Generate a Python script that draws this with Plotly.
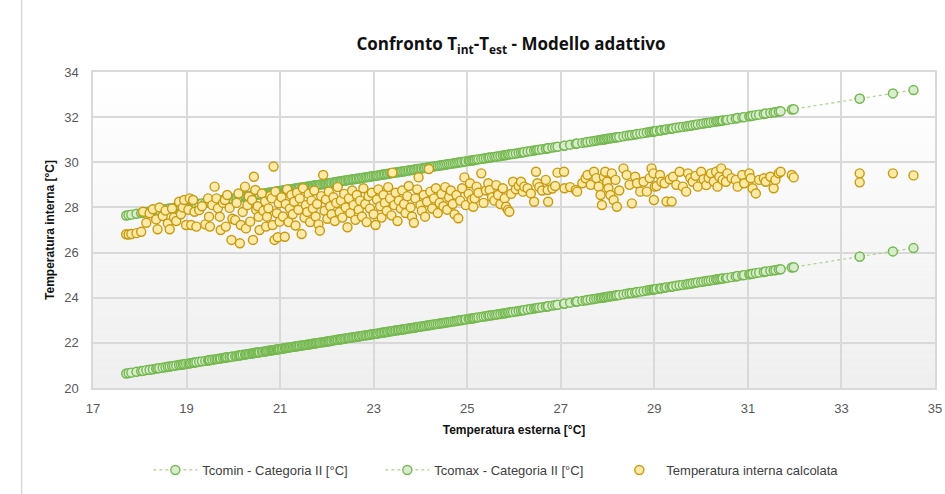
import plotly.graph_objects as go

# Outdoor running-mean temperature (x), shared by all series
t_est = [17.71, 17.76, 17.82, 17.93, 18.03, 18.07, 18.14, 18.21, 18.28, 18.35, 18.38, 18.42, 18.49, 18.55, 18.60, 18.64, 18.69, 18.73, 18.78, 18.84, 18.88, 18.92, 18.95, 18.99,
         19.04, 19.07, 19.10, 19.14, 19.17, 19.21, 19.27, 19.33, 19.40, 19.46, 19.48, 19.50, 19.55, 19.60, 19.64, 19.67, 19.71, 19.73, 19.78, 19.82, 19.84, 19.87, 19.92, 19.96, 19.98,
         20.04, 20.07, 20.11, 20.14, 20.16, 20.20, 20.25, 20.27, 20.30, 20.33, 20.36, 20.40, 20.42, 20.44, 20.47, 20.49, 20.52, 20.54, 20.56, 20.61, 20.64, 20.68, 20.70, 20.72, 20.75, 20.79, 20.82, 20.84, 20.86, 20.88, 20.90, 20.93, 20.95, 20.97, 20.99,
         21.03, 21.06, 21.10, 21.12, 21.15, 21.18, 21.21, 21.24, 21.27, 21.30, 21.33, 21.36, 21.39, 21.42, 21.46, 21.49, 21.52, 21.55, 21.58, 21.61, 21.64, 21.67, 21.70, 21.73, 21.76, 21.79, 21.82, 21.85, 21.88, 21.92, 21.95, 21.98,
         22.01, 22.04, 22.07, 22.10, 22.14, 22.17, 22.20, 22.23, 22.27, 22.30, 22.33, 22.37, 22.40, 22.44, 22.47, 22.50, 22.54, 22.57, 22.61, 22.64, 22.68, 22.71, 22.75, 22.78, 22.82, 22.85, 22.89, 22.92, 22.96,
         23.00, 23.04, 23.07, 23.10, 23.14, 23.17, 23.21, 23.24, 23.28, 23.31, 23.35, 23.38, 23.40, 23.44, 23.47, 23.51, 23.54, 23.58, 23.61, 23.65, 23.68, 23.72, 23.75, 23.79, 23.82, 23.86, 23.89, 23.93, 23.96,
         24.00, 24.03, 24.07, 24.10, 24.14, 24.18, 24.21, 24.25, 24.29, 24.33, 24.37, 24.41, 24.45, 24.49, 24.53, 24.57, 24.61, 24.65, 24.69, 24.73, 24.77, 24.81, 24.85, 24.89, 24.94, 24.97,
         25.03, 25.06, 25.10, 25.13, 25.16, 25.20, 25.24, 25.30, 25.35, 25.40, 25.45, 25.48, 25.53, 25.58, 25.62, 25.66, 25.71, 25.76, 25.80, 25.83, 25.87, 25.90, 25.94, 25.98,
         26.04, 26.10, 26.15, 26.19, 26.22, 26.29, 26.36, 26.43, 26.47, 26.50, 26.54, 26.60, 26.68, 26.72, 26.73, 26.82, 26.88, 26.93,
         27.07, 27.08, 27.20, 27.32, 27.35, 27.46, 27.53, 27.57, 27.64, 27.71, 27.76, 27.81, 27.85, 27.88, 27.92, 27.95, 27.99,
         28.02, 28.06, 28.09, 28.13, 28.17, 28.20, 28.25, 28.34, 28.41, 28.47, 28.52, 28.59, 28.63, 28.70, 28.77, 28.84, 28.90, 28.94, 28.98, 28.99,
         29.01, 29.05, 29.12, 29.15, 29.22, 29.26, 29.33, 29.37, 29.40, 29.47, 29.54, 29.61, 29.68, 29.72, 29.77, 29.82, 29.88, 29.93,
         30.00, 30.05, 30.11, 30.16, 30.21, 30.27, 30.32, 30.35, 30.39, 30.43, 30.46, 30.53, 30.56, 30.65, 30.74, 30.78, 30.88, 30.92,
         31.03, 31.06, 31.10, 31.17, 31.24, 31.34, 31.38, 31.48, 31.55, 31.59, 31.66, 31.70, 31.94, 31.98,
         33.39, 33.39, 34.10, 34.54]

# Calculated indoor temperature
t_int = [26.81, 26.80, 26.82, 26.86, 26.92, 27.81, 27.32, 27.74, 27.92, 27.47, 27.03, 28.00, 27.62, 27.86, 27.29, 27.03, 27.95, 27.55, 27.40, 28.25, 27.70, 28.00, 28.33, 27.22,
         27.90, 28.40, 27.22, 28.33, 27.81, 27.15, 27.88, 28.05, 27.25, 28.40, 27.59, 27.15, 28.10, 28.92, 28.40, 27.96, 27.59, 27.00, 28.20, 28.33, 27.15, 28.55, 27.98, 26.56, 27.50,
         27.44, 28.20, 28.62, 26.41, 27.22, 27.80, 28.92, 27.07, 28.10, 28.48, 27.37, 28.33, 26.56, 29.36, 28.77, 27.89, 28.05, 27.59, 27.00, 28.62, 27.85, 28.26, 27.15, 27.59, 27.96, 28.50, 28.40, 27.22, 29.81, 26.56, 28.70, 27.74, 26.68, 28.18, 27.37,
         28.45, 27.60, 26.70, 28.15, 28.80, 27.35, 27.95, 28.55, 27.70, 28.25, 27.20, 28.65, 27.90, 28.40, 26.82, 28.85, 27.55, 28.10, 27.80, 28.60, 27.35, 28.30, 27.95, 28.75, 27.60, 28.15, 27.25, 26.97, 28.50, 29.44, 27.85, 28.35,
         27.50, 28.70, 28.05, 27.70, 28.45, 27.40, 28.20, 28.90, 27.80, 28.30, 27.55, 28.60, 28.00, 27.12, 28.40, 27.75, 28.75, 28.10, 27.45, 28.55, 27.90, 28.30, 27.60, 28.85, 28.15, 27.35, 28.50, 27.95, 28.65,
         27.70, 27.22, 28.35, 28.80, 28.05, 27.55, 28.55, 28.20, 27.85, 28.90, 28.40, 27.65, 29.54, 28.10, 28.65, 27.40, 28.30, 27.95, 28.75, 28.15, 27.75, 28.50, 28.95, 28.00, 27.60, 27.32, 28.40, 28.80, 29.33,
         28.10, 27.85, 28.55, 27.59, 28.25, 29.70, 28.70, 27.95, 28.40, 28.85, 27.75, 28.20, 28.60, 28.05, 28.90, 27.90, 28.45, 28.75, 28.15, 27.70, 28.55, 27.52, 28.30, 28.85, 29.33, 28.10,
         28.60, 29.07, 28.35, 28.03, 28.40, 28.92, 28.65, 29.51, 28.20, 28.75, 29.07, 28.77, 28.45, 28.30, 28.99, 28.55, 28.15, 28.85, 28.40, 28.03, 27.89, 27.81, 28.60, 29.14,
         28.80, 28.95, 29.14, 28.70, 28.92, 28.85, 28.62, 28.25, 29.58, 29.07, 28.90, 28.75, 29.22, 28.77, 28.25, 28.84, 28.95, 29.54,
         29.58, 28.85, 28.90, 28.77, 28.70, 29.07, 29.29, 29.44, 29.00, 29.58, 29.30, 28.92, 28.55, 28.11, 29.36, 29.58, 29.14,
         28.85, 28.55, 29.51, 28.33, 29.22, 28.03, 28.75, 29.73, 29.44, 29.00, 28.18, 29.36, 29.07, 28.70, 29.14, 28.70, 29.30, 29.73, 29.51, 28.33,
         28.92, 28.95, 29.44, 29.14, 29.07, 28.26, 29.25, 28.26, 29.36, 29.00, 29.58, 28.92, 28.70, 29.51, 29.30, 29.14, 29.40, 28.92,
         29.58, 29.25, 28.99, 29.30, 29.51, 29.15, 29.58, 28.92, 29.36, 29.73, 29.22, 29.14, 29.51, 29.30, 29.22, 28.92, 29.44, 29.07,
         29.51, 29.29, 28.85, 28.62, 29.22, 29.29, 29.14, 29.36, 28.85, 29.22, 29.51, 29.58, 29.44, 29.33,
         29.51, 29.11, 29.51, 29.42]

# Tcomax - Categoria II (upper comfort limit)
t_comax = [27.64, 27.66, 27.68, 27.72, 27.75, 27.76, 27.79, 27.81, 27.83, 27.86, 27.87, 27.88, 27.90, 27.92, 27.94, 27.95, 27.97, 27.98, 28.00, 28.02, 28.03, 28.04, 28.05, 28.07,
           28.08, 28.09, 28.10, 28.12, 28.13, 28.14, 28.16, 28.18, 28.20, 28.22, 28.23, 28.24, 28.25, 28.27, 28.28, 28.29, 28.30, 28.31, 28.33, 28.34, 28.35, 28.36, 28.37, 28.39, 28.39,
           28.41, 28.42, 28.44, 28.45, 28.45, 28.47, 28.48, 28.49, 28.50, 28.51, 28.52, 28.53, 28.54, 28.55, 28.56, 28.56, 28.57, 28.58, 28.58, 28.60, 28.61, 28.62, 28.63, 28.64, 28.65, 28.66, 28.67, 28.68, 28.68, 28.69, 28.70, 28.71, 28.71, 28.72, 28.73,
           28.74, 28.75, 28.76, 28.77, 28.78, 28.79, 28.80, 28.81, 28.82, 28.83, 28.84, 28.85, 28.86, 28.87, 28.88, 28.89, 28.90, 28.91, 28.92, 28.93, 28.94, 28.95, 28.96, 28.97, 28.98, 28.99, 29.00, 29.01, 29.02, 29.03, 29.04, 29.05,
           29.06, 29.07, 29.08, 29.09, 29.11, 29.12, 29.13, 29.14, 29.15, 29.16, 29.17, 29.18, 29.19, 29.21, 29.22, 29.23, 29.24, 29.25, 29.26, 29.27, 29.28, 29.29, 29.31, 29.32, 29.33, 29.34, 29.35, 29.36, 29.38,
           29.39, 29.40, 29.41, 29.42, 29.44, 29.45, 29.46, 29.47, 29.48, 29.49, 29.51, 29.52, 29.52, 29.54, 29.55, 29.56, 29.57, 29.58, 29.59, 29.60, 29.61, 29.63, 29.64, 29.65, 29.66, 29.67, 29.68, 29.70, 29.71,
           29.72, 29.73, 29.74, 29.75, 29.77, 29.78, 29.79, 29.80, 29.82, 29.83, 29.84, 29.86, 29.87, 29.88, 29.89, 29.91, 29.92, 29.93, 29.95, 29.96, 29.97, 29.99, 30.00, 30.01, 30.03, 30.04,
           30.06, 30.07, 30.08, 30.09, 30.10, 30.12, 30.13, 30.15, 30.17, 30.18, 30.20, 30.21, 30.22, 30.24, 30.25, 30.27, 30.28, 30.30, 30.31, 30.32, 30.34, 30.35, 30.36, 30.37,
           30.39, 30.41, 30.43, 30.44, 30.45, 30.48, 30.50, 30.52, 30.54, 30.55, 30.56, 30.58, 30.60, 30.62, 30.62, 30.65, 30.67, 30.69,
           30.73, 30.74, 30.78, 30.82, 30.83, 30.86, 30.88, 30.90, 30.92, 30.94, 30.96, 30.98, 30.99, 31.00, 31.01, 31.02, 31.04,
           31.05, 31.06, 31.07, 31.08, 31.10, 31.11, 31.12, 31.15, 31.18, 31.20, 31.21, 31.23, 31.25, 31.27, 31.29, 31.32, 31.34, 31.35, 31.36, 31.37,
           31.37, 31.39, 31.41, 31.42, 31.44, 31.46, 31.48, 31.49, 31.50, 31.53, 31.55, 31.57, 31.59, 31.61, 31.62, 31.64, 31.66, 31.68,
           31.70, 31.72, 31.74, 31.75, 31.77, 31.79, 31.81, 31.82, 31.83, 31.84, 31.85, 31.87, 31.88, 31.91, 31.94, 31.96, 31.99, 32.00,
           32.04, 32.05, 32.06, 32.09, 32.11, 32.14, 32.16, 32.19, 32.21, 32.22, 32.25, 32.26, 32.34, 32.35,
           32.82, 32.82, 33.05, 33.20]

# Tcomin - Categoria II (lower comfort limit)
t_comin = [20.64, 20.66, 20.68, 20.72, 20.75, 20.76, 20.79, 20.81, 20.83, 20.86, 20.87, 20.88, 20.90, 20.92, 20.94, 20.95, 20.97, 20.98, 21.00, 21.02, 21.03, 21.04, 21.05, 21.07,
           21.08, 21.09, 21.10, 21.12, 21.13, 21.14, 21.16, 21.18, 21.20, 21.22, 21.23, 21.24, 21.25, 21.27, 21.28, 21.29, 21.30, 21.31, 21.33, 21.34, 21.35, 21.36, 21.37, 21.39, 21.39,
           21.41, 21.42, 21.44, 21.45, 21.45, 21.47, 21.48, 21.49, 21.50, 21.51, 21.52, 21.53, 21.54, 21.55, 21.56, 21.56, 21.57, 21.58, 21.58, 21.60, 21.61, 21.62, 21.63, 21.64, 21.65, 21.66, 21.67, 21.68, 21.68, 21.69, 21.70, 21.71, 21.71, 21.72, 21.73,
           21.74, 21.75, 21.76, 21.77, 21.78, 21.79, 21.80, 21.81, 21.82, 21.83, 21.84, 21.85, 21.86, 21.87, 21.88, 21.89, 21.90, 21.91, 21.92, 21.93, 21.94, 21.95, 21.96, 21.97, 21.98, 21.99, 22.00, 22.01, 22.02, 22.03, 22.04, 22.05,
           22.06, 22.07, 22.08, 22.09, 22.11, 22.12, 22.13, 22.14, 22.15, 22.16, 22.17, 22.18, 22.19, 22.21, 22.22, 22.23, 22.24, 22.25, 22.26, 22.27, 22.28, 22.29, 22.31, 22.32, 22.33, 22.34, 22.35, 22.36, 22.38,
           22.39, 22.40, 22.41, 22.42, 22.44, 22.45, 22.46, 22.47, 22.48, 22.49, 22.51, 22.52, 22.52, 22.54, 22.55, 22.56, 22.57, 22.58, 22.59, 22.60, 22.61, 22.63, 22.64, 22.65, 22.66, 22.67, 22.68, 22.70, 22.71,
           22.72, 22.73, 22.74, 22.75, 22.77, 22.78, 22.79, 22.80, 22.82, 22.83, 22.84, 22.86, 22.87, 22.88, 22.89, 22.91, 22.92, 22.93, 22.95, 22.96, 22.97, 22.99, 23.00, 23.01, 23.03, 23.04,
           23.06, 23.07, 23.08, 23.09, 23.10, 23.12, 23.13, 23.15, 23.17, 23.18, 23.20, 23.21, 23.22, 23.24, 23.25, 23.27, 23.28, 23.30, 23.31, 23.32, 23.34, 23.35, 23.36, 23.37,
           23.39, 23.41, 23.43, 23.44, 23.45, 23.48, 23.50, 23.52, 23.54, 23.55, 23.56, 23.58, 23.60, 23.62, 23.62, 23.65, 23.67, 23.69,
           23.73, 23.74, 23.78, 23.82, 23.83, 23.86, 23.88, 23.90, 23.92, 23.94, 23.96, 23.98, 23.99, 24.00, 24.01, 24.02, 24.04,
           24.05, 24.06, 24.07, 24.08, 24.10, 24.11, 24.12, 24.15, 24.18, 24.20, 24.21, 24.23, 24.25, 24.27, 24.29, 24.32, 24.34, 24.35, 24.36, 24.37,
           24.37, 24.39, 24.41, 24.42, 24.44, 24.46, 24.48, 24.49, 24.50, 24.53, 24.55, 24.57, 24.59, 24.61, 24.62, 24.64, 24.66, 24.68,
           24.70, 24.72, 24.74, 24.75, 24.77, 24.79, 24.81, 24.82, 24.83, 24.84, 24.85, 24.87, 24.88, 24.91, 24.94, 24.96, 24.99, 25.00,
           25.04, 25.05, 25.06, 25.09, 25.11, 25.14, 25.16, 25.19, 25.21, 25.22, 25.25, 25.26, 25.34, 25.35,
           25.82, 25.82, 26.05, 26.20]

x_ticks = [17, 19, 21, 23, 25, 27, 29, 31, 33, 35]
y_ticks = [20, 22, 24, 26, 28, 30, 32, 34]

series_names = ["Tcomin - Categoria II [°C]", "Tcomax - Categoria II [°C]", "Temperatura interna calcolata"]

GREEN_LINE = "#74b84e"
GREEN_FILL = "#d8ecce"
GREEN_DOT = "#a9d18e"
GOLD_LINE = "#c99a0e"
GOLD_FILL = "#ffeaa8"

NARROW = "Liberation Sans Narrow, Arial Narrow, sans-serif"

fig = go.Figure()

fig.add_trace(go.Scatter(
    x=t_est, y=t_comin, name=series_names[0], mode="lines+markers",
    line=dict(color=GREEN_DOT, width=1.2, dash="dot"),
    marker=dict(symbol="circle", size=9, color=GREEN_FILL, line=dict(color=GREEN_LINE, width=1.4)),
))
fig.add_trace(go.Scatter(
    x=t_est, y=t_comax, name=series_names[1], mode="lines+markers",
    line=dict(color=GREEN_DOT, width=1.2, dash="dot"),
    marker=dict(symbol="circle", size=9, color=GREEN_FILL, line=dict(color=GREEN_LINE, width=1.4)),
))
fig.add_trace(go.Scatter(
    x=t_est, y=t_int, name=series_names[2], mode="markers",
    marker=dict(symbol="circle", size=9, color=GOLD_FILL, line=dict(color=GOLD_LINE, width=1.4)),
))

# gradient plot background (white at top to light grey at bottom)
shapes = []
n_bands = 40
for i in range(n_bands):
    frac = i / (n_bands - 1)
    g = int(round(255 - (255 - 239) * (1 - frac)))
    shapes.append(dict(type="rect", xref="x domain", yref="y domain",
                       x0=0, x1=1, y0=i / n_bands, y1=(i + 1) / n_bands,
                       fillcolor=f"rgb({g},{g},{g})", line=dict(width=0), layer="below"))
# chart frame left edge
shapes.append(dict(type="line", xref="paper", yref="paper",
                   x0=(21 - 93) / 849, x1=(21 - 93) / 849, y0=-0.34, y1=1.25,
                   line=dict(color="#d9d9d9", width=1.5)))

tick_font = dict(family=NARROW, size=13, color="#595959")

fig.update_layout(
    width=945, height=494,
    margin=dict(l=93, r=3, t=72, b=106),
    paper_bgcolor="white",
    plot_bgcolor="white",
    shapes=shapes,
    title=dict(
        text="<b>Confronto T<sub>int</sub>-T<sub>est</sub> - Modello adattivo</b>",
        font=dict(family="Open Sans, sans-serif", size=17, color="#111111"),
        x=511 / 945, xanchor="center", y=1 - 44 / 494, yanchor="middle",
    ),
    xaxis=dict(
        range=[17, 35], tickvals=x_ticks, ticktext=[str(v) for v in x_ticks],
        showgrid=True, gridcolor="#d9d9d9", gridwidth=1.5,
        showline=True, linecolor="#d9d9d9", linewidth=1.5, mirror=True,
        zeroline=False, ticks="", tickfont=tick_font, ticklabelstandoff=8,
        ticklabeloverflow="allow",
        title=dict(text="<b>Temperatura esterna [°C]</b>",
                   font=dict(family=NARROW, size=12, color="#111111"),
                   standoff=10),
    ),
    yaxis=dict(
        range=[20, 34], tickvals=y_ticks, ticktext=[str(v) for v in y_ticks],
        showgrid=True, gridcolor="#d9d9d9", gridwidth=1.5,
        showline=True, linecolor="#d9d9d9", linewidth=1.5, mirror=True,
        zeroline=False, ticks="", tickfont=tick_font, ticklabelstandoff=10,
        title=dict(text="<b>Temperatura interna [°C]</b>",
                   font=dict(family=NARROW, size=12, color="#111111"),
                   standoff=7),
    ),
    legend=dict(
        orientation="h", x=0.479, xanchor="center", y=-(470 - 388) / 316, yanchor="middle",
        font=dict(family=NARROW, size=13, color="#404040"),
        itemwidth=44,
        entrywidth=173, entrywidthmode="pixels", bgcolor="rgba(0,0,0,0)",
    ),
    showlegend=True,
)

fig.write_html("out.html")
